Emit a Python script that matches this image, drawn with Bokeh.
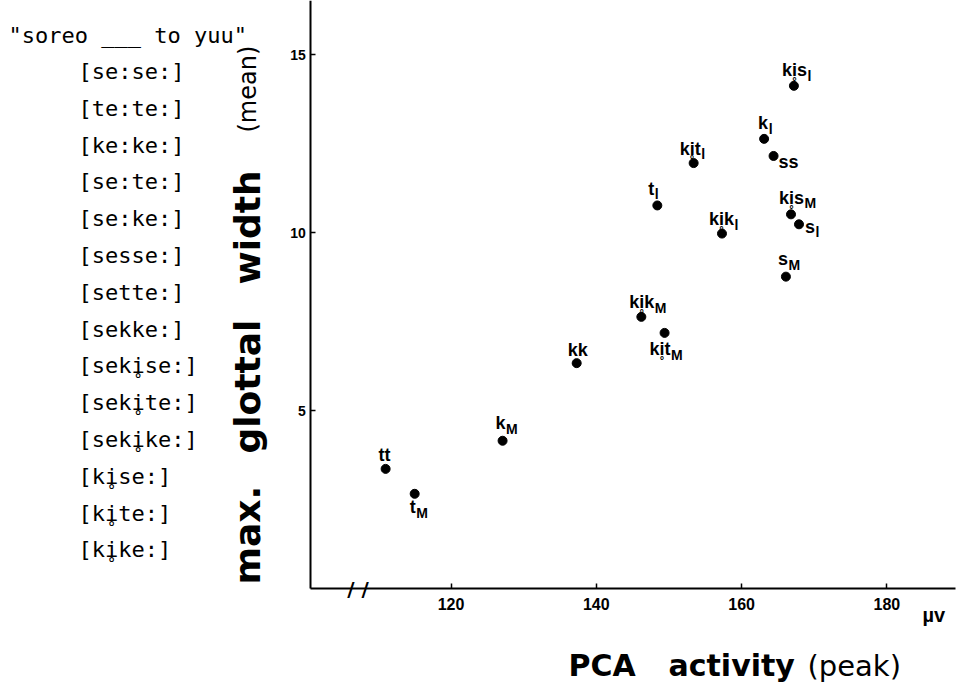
import math
from bokeh.plotting import figure
from bokeh.models import FixedTicker, ColumnDataSource, Range1d
from bokeh.core.properties import value
from bokeh.embed import file_html
from bokeh.resources import INLINE

# ---------------- data ----------------
point_base = ["ki\u0325s", "k", "ss", "ki\u0325t", "t", "ki\u0325k", "ki\u0325s", "s", "s",
              "ki\u0325k", "ki\u0325t", "kk", "k", "tt", "t"]
point_sub = ["l", "l", "", "l", "l", "l", "M", "l", "M",
             "M", "M", "", "M", "", "M"]
pca_peak = [167.2, 163.1, 164.4, 153.4, 148.4, 157.3, 166.8, 167.9, 166.1,
            146.2, 149.4, 137.3, 127.1, 111.0, 115.0]
glottal_width = [14.12, 12.63, 12.15, 11.95, 10.76, 9.97, 10.51, 10.23, 8.76,
                 7.63, 7.18, 6.33, 4.15, 3.36, 2.66]

x_ticks = [120, 140, 160, 180]
y_ticks = [5, 10, 15]
x_unit = "\u00b5v"
x_axis_start, x_axis_end = 100.7, 189.4
axis_break_x = 107.2

frame_sentence = '"soreo ___ to yuu"'
forms = ["[se:se:]", "[te:te:]", "[ke:ke:]", "[se:te:]", "[se:ke:]", "[sesse:]",
         "[sette:]", "[sekke:]", "[seki\u0325se:]", "[seki\u0325te:]", "[seki\u0325ke:]",
         "[ki\u0325se:]", "[ki\u0325te:]", "[ki\u0325ke:]"]

y_title_words = ["max.", "glottal", "width", "(mean)"]
x_title_words = ["PCA", "activity", "(peak)"]

# ---------------- layout ----------------
W, H = 960, 690
X120_PX, X_SCALE = 450.5, 7.265     # page px of x=120, px per unit
Y0_PX, Y_SCALE = 588.0, 35.6        # page px of y=0, px per unit
XR = (120 - X120_PX / X_SCALE, 120 + (W - X120_PX) / X_SCALE)
YR = (-(H - Y0_PX) / Y_SCALE, Y0_PX / Y_SCALE)
BASELINE_FIX = 0.36   # alphabetic baseline renders this many em too low

def px(X):
    return XR[0] + X / W * (XR[1] - XR[0])

def py(Y):
    return YR[1] - Y / H * (YR[1] - YR[0])

p = figure(width=W, height=H, output_backend="svg", toolbar_location=None,
           x_range=Range1d(*XR), y_range=Range1d(*YR),
           min_border=0, min_border_left=0, min_border_right=0,
           min_border_top=0, min_border_bottom=0)
p.outline_line_color = None
p.xgrid.visible = False
p.ygrid.visible = False

for ax in (p.xaxis[0], p.yaxis[0]):
    ax.axis_line_width = 2
    ax.axis_line_color = "black"
    ax.major_tick_in = 5
    ax.major_tick_out = 0
    ax.major_tick_line_width = 1.5
    ax.minor_tick_in = 0
    ax.minor_tick_out = 0
    ax.major_label_text_font = "Liberation Sans"
    ax.major_label_text_font_style = "bold"
    ax.major_label_text_color = "black"

p.xaxis.fixed_location = 0
p.yaxis.fixed_location = x_axis_start
p.xaxis.bounds = (x_axis_start, x_axis_end)
p.yaxis.bounds = (0, YR[1])
p.xaxis.ticker = FixedTicker(ticks=x_ticks)
p.yaxis.ticker = FixedTicker(ticks=y_ticks)
p.xaxis.major_label_text_font_size = "16px"
p.yaxis.major_label_text_font_size = "14px"
p.xaxis.major_label_standoff = 9
p.yaxis.major_label_standoff = 5

# ---------------- points and labels ----------------
placement = [(-12, -9), (-6, -9), (5, 13), (-14, -8), (-9, -10), (-13, -8), (-12, -10),
             (6, 9), (-8, -11), (-12, -8), (-15, 23), (-9, -7), (-7, -11), (-7, -7), (-5, 20)]
LBL_SIZE = 18
SUB_SIZE = 14
ADV = {'k': 0.556, 'i': 0.278, 's': 0.556, 't': 0.333}

def text_w(s, size):
    return sum(ADV.get(c, 0.0) for c in s) * size

dx = [q[0] for q in placement]
dy = [q[1] - BASELINE_FIX * LBL_SIZE for q in placement]
sdx = [q[0] + text_w(b, LBL_SIZE) + 0.5 for q, b in zip(placement, point_base)]
sdy = [q[1] + 4 - BASELINE_FIX * SUB_SIZE for q in placement]

src = ColumnDataSource(dict(x=pca_peak, y=glottal_width, base=point_base, sub=point_sub,
                            dx=dx, dy=dy, sdx=sdx, sdy=sdy))

p.scatter("x", "y", source=src, size=9, color="black")
p.text("x", "y", text="base", source=src, x_offset="dx", y_offset="dy",
       text_font=value("Liberation Sans"), text_font_style="bold",
       text_font_size=f"{LBL_SIZE}px", text_align="left", text_baseline="alphabetic",
       text_color="black")
p.text("x", "y", text="sub", source=src, x_offset="sdx", y_offset="sdy",
       text_font=value("Liberation Sans"), text_font_style="bold",
       text_font_size=f"{SUB_SIZE}px", text_align="left", text_baseline="alphabetic",
       text_color="black")

# axis break mark
p.text(x=[axis_break_x], y=[0], text=["/ /"], text_font=value("DejaVu Sans"),
       text_font_style="bold", text_font_size="20px", text_align="center",
       text_baseline="middle", text_color="black")

# unit of the x axis
p.text(x=[px(922)], y=[py(614)], text=[x_unit], text_font=value("Liberation Sans"),
       text_font_style="bold", text_font_size="20px", text_align="left",
       text_baseline="middle", text_color="black")

# ---------------- left column ----------------
p.text(x=[px(8)], y=[py(35)], text=[frame_sentence], text_font=value("DejaVu Sans Mono"),
       text_font_size="22px", text_align="left", text_baseline="middle", text_color="black")
row0, row_step = 71, 36.8
p.text(x=[px(78)] * len(forms), y=[py(row0 + i * row_step) for i in range(len(forms))],
       text=forms, text_font=value("DejaVu Sans Mono"), text_font_size="22px",
       text_align="left", text_baseline="middle", text_color="black")

# ---------------- y title (rotated) ----------------
y_title_start = [584, 453, 284, 132]
y_title_size = ["36px", "36px", "36px", "24px"]
y_title_style = ["bold", "bold", "bold", "normal"]
for w, Yb, sz, st in zip(y_title_words, y_title_start, y_title_size, y_title_style):
    p.text(x=[px(247)], y=[py(Yb)], text=[w], angle=math.pi / 2,
           text_font=value("DejaVu Sans"), text_font_style=st, text_font_size=sz,
           text_align="left", text_baseline="middle", text_color="black")

# ---------------- x title ----------------
x_title_start = [568, 668, 807]
x_title_size = [30, 30, 29]
x_title_style = ["bold", "bold", "normal"]
for w, Xl, sz, st in zip(x_title_words, x_title_start, x_title_size, x_title_style):
    p.text(x=[px(Xl)], y=[py(676)], text=[w], y_offset=-BASELINE_FIX * sz,
           text_font=value("DejaVu Sans"), text_font_style=st, text_font_size=f"{sz}px",
           text_align="left", text_baseline="alphabetic", text_color="black")

open("out.html", "w").write(file_html(p, INLINE))
